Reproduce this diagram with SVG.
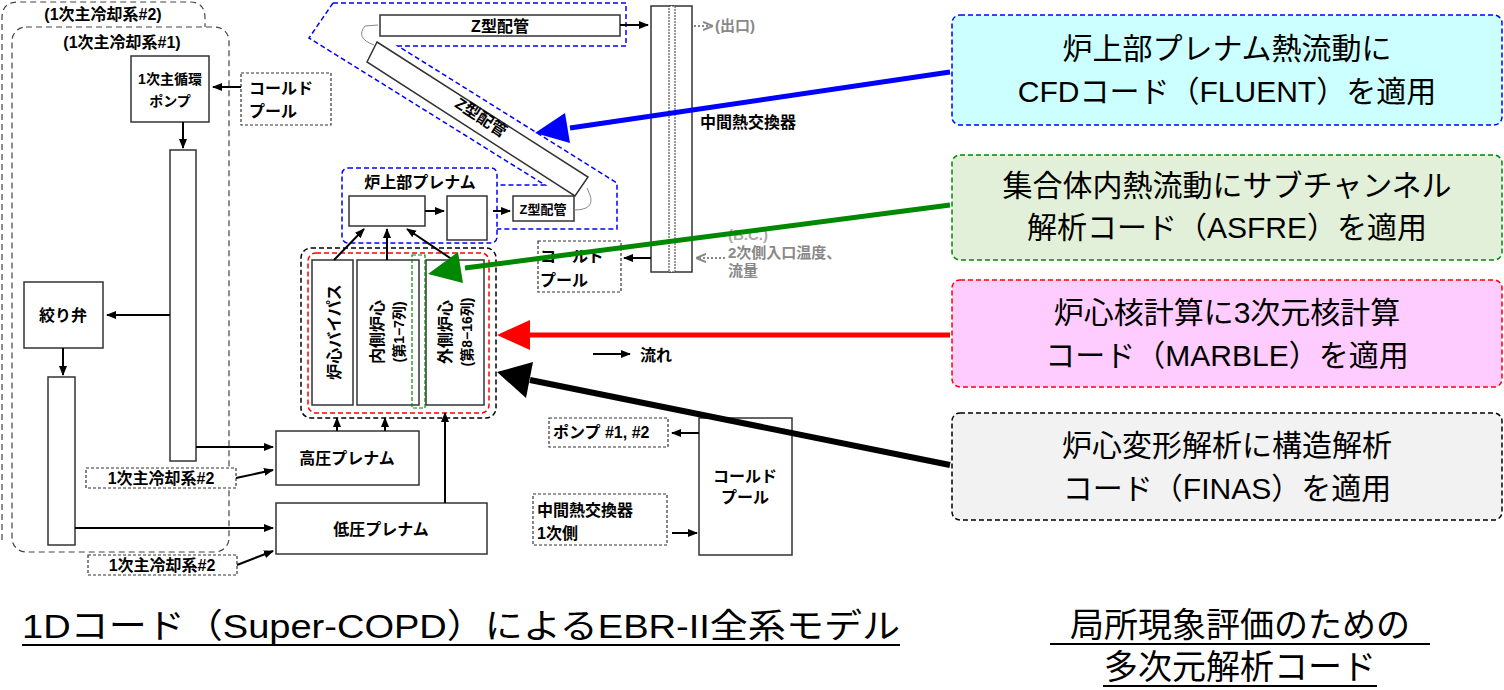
<svg xmlns="http://www.w3.org/2000/svg" width="1504" height="690" viewBox="0 0 1504 690">
<style>
text{font-family:"Liberation Sans","Noto Sans CJK JP",sans-serif;fill:#000}
.b{font-weight:bold;font-size:16px}
.box{fill:#fff;stroke:#333;stroke-width:1.5}
.dd{fill:#fff;stroke:#333;stroke-width:1.2;stroke-dasharray:3 2}
.ln{stroke:#000;stroke-width:2;fill:none;marker-end:url(#a)}
.big{font-size:30px}
.cap{font-size:34px}
</style>
<defs>
<marker id="a" viewBox="0 0 10 10" refX="9" refY="5" markerWidth="5" markerHeight="5" orient="auto"><path d="M0,1L10,5L0,9z" fill="#000"/></marker>
<marker id="g" viewBox="0 0 10 10" refX="9" refY="5" markerWidth="5" markerHeight="5" orient="auto"><path d="M0,1L10,5L0,9" fill="none" stroke="#888" stroke-width="2"/></marker>
</defs>
<g id="systems" fill="none" stroke="#444" stroke-width="1.2" stroke-dasharray="6 4">
<path d="M2,540V18Q2,2,18,2H190Q205,2,205,18V27"/>
<rect x="12" y="27" width="217" height="525" rx="14"/>
</g>
<text class="b" x="103" y="20" text-anchor="middle">(1次主冷却系#2)</text>
<text class="b" x="122" y="48" text-anchor="middle">(1次主冷却系#1)</text>
<g id="pump"><rect class="box" x="131" y="56" width="78" height="66"/><text class="b" x="170" y="84" text-anchor="middle" style="font-size:14px">1次主循環</text><text class="b" x="170" y="106" text-anchor="middle" style="font-size:14px">ポンプ</text></g>
<g id="cp1"><rect class="dd" x="241" y="73" width="90" height="52"/><text class="b" x="249" y="94">コールド</text><text class="b" x="249" y="117">プール</text></g>
<g id="col1"><rect class="box" x="170" y="150" width="26" height="311"/></g>
<g id="valve"><rect class="box" x="24" y="282" width="79" height="66"/><text class="b" x="63" y="321" text-anchor="middle">絞り弁</text></g>
<g id="col2"><rect class="box" x="48" y="377" width="27" height="168"/></g>
<g id="hp"><rect class="box" x="276" y="431" width="143" height="54"/><text class="b" x="347" y="464" text-anchor="middle">高圧プレナム</text></g>
<g id="lp"><rect class="box" x="276" y="503" width="211" height="51"/><text class="b" x="381" y="535" text-anchor="middle">低圧プレナム</text></g>
<g id="l2a"><rect class="dd" x="86" y="468" width="150" height="20"/><text class="b" x="161" y="484" text-anchor="middle">1次主冷却系#2</text></g>
<g id="l2b"><rect class="dd" x="88" y="555" width="149" height="20"/><text class="b" x="162" y="571" text-anchor="middle">1次主冷却系#2</text></g>
<g id="core">
<rect x="301" y="248" width="195" height="170" rx="10" fill="none" stroke="#000" stroke-width="1.5" stroke-dasharray="5 3"/>
<rect x="308" y="253" width="181" height="160" rx="8" fill="none" stroke="#f00" stroke-width="1.5" stroke-dasharray="5 3"/>
<rect class="box" x="312" y="260" width="41" height="145"/>
<rect class="box" x="357" y="260" width="62" height="145"/>
<rect class="box" x="426" y="260" width="58" height="145"/>
<rect x="412" y="255" width="13" height="153" fill="none" stroke="#080" stroke-width="1.2" stroke-dasharray="4 2"/>
<text class="b" transform="translate(340,332) rotate(-90)" text-anchor="middle">炉心バイパス</text>
<text class="b" transform="translate(383,332) rotate(-90)" text-anchor="middle">内側炉心</text>
<text class="b" transform="translate(404,332) rotate(-90)" text-anchor="middle" style="font-size:14px">(第1−7列)</text>
<text class="b" transform="translate(451,332) rotate(-90)" text-anchor="middle">外側炉心</text>
<text class="b" transform="translate(472,332) rotate(-90)" text-anchor="middle" style="font-size:14px">(第8−16列)</text>
</g>
<g id="zpipe" fill="none" stroke="#00f" stroke-width="1.5" stroke-dasharray="5 3">
<path d="M333,3H626V46H398L617,183V229H497"/>
<path d="M333,3L309,38L545,185H497"/>
<rect x="342" y="168" width="155" height="75" rx="6"/>
</g>
<g id="upper"><text class="b" x="420" y="188" text-anchor="middle">炉上部プレナム</text>
<rect class="box" x="349" y="196" width="76" height="30"/><rect class="box" x="447" y="196" width="40" height="44"/>
<rect class="box" x="513" y="196" width="61" height="25"/><text x="543" y="214" text-anchor="middle" style="font-size:13px;font-weight:bold">Z型配管</text></g>
<g id="ztop"><rect class="box" x="380" y="15" width="240" height="21"/><text class="b" x="500" y="32" text-anchor="middle">Z型配管</text></g>
<g id="zdiag"><polygon class="box" points="377,42 588,177 575,196 367,62"/><text class="b" transform="translate(478,122) rotate(33)" text-anchor="middle">Z型配管</text></g>
<g id="ihx"><rect class="box" x="651" y="6" width="41" height="266"/><rect x="669" y="6" width="6" height="266" fill="#fff" stroke="#333" stroke-width="1" stroke-dasharray="2 1"/><text class="b" x="700" y="128">中間熱交換器</text></g>
<text x="715" y="31" style="font-size:15px;font-weight:bold;fill:#888">(出口)</text>
<g id="cp2"><rect class="dd" x="538" y="241" width="83" height="51"/><text class="b" x="540" y="262">コールド</text><text class="b" x="540" y="286">プール</text></g>
<text x="728" y="240" style="font-size:15px;font-weight:bold;fill:#aaa">(B.C.)</text>
<text x="728" y="258" style="font-size:15px;font-weight:bold;fill:#888">2次側入口温度、</text>
<text x="728" y="276" style="font-size:15px;font-weight:bold;fill:#888">流量</text>
<text class="b" x="640" y="361">流れ</text>
<g id="cp3"><rect class="box" x="699" y="418" width="93" height="137"/><text class="b" x="745" y="482" text-anchor="middle">コールド</text><text class="b" x="745" y="503" text-anchor="middle">プール</text></g>
<g id="pumps"><rect class="dd" x="549" y="418" width="119" height="29"/><text class="b" x="553" y="438">ポンプ #1, #2</text></g>
<g id="ihx1"><rect class="dd" x="533" y="494" width="134" height="51"/><text class="b" x="537" y="516">中間熱交換器</text><text class="b" x="537" y="539">1次側</text></g>
<g id="cfd"><rect x="952" y="15" width="550" height="110" rx="8" fill="#ccffff" stroke="#00f" stroke-width="1.5" stroke-dasharray="5 3"/><text class="big" x="1227" y="59" text-anchor="middle">炉上部プレナム熱流動に</text><text class="big" x="1227" y="102" text-anchor="middle">CFDコード（FLUENT）を適用</text></g>
<g id="asfre"><rect x="952" y="155" width="550" height="105" rx="8" fill="#e2f0d9" stroke="#080" stroke-width="1.5" stroke-dasharray="5 3"/><text class="big" x="1227" y="196" text-anchor="middle">集合体内熱流動にサブチャンネル</text><text class="big" x="1227" y="238" text-anchor="middle">解析コード（ASFRE）を適用</text></g>
<g id="marble"><rect x="952" y="280" width="550" height="107" rx="8" fill="#ffccff" stroke="#f00" stroke-width="1.5" stroke-dasharray="5 3"/><text class="big" x="1227" y="323" text-anchor="middle">炉心核計算に3次元核計算</text><text class="big" x="1227" y="366" text-anchor="middle">コード（MARBLE）を適用</text></g>
<g id="finas"><rect x="952" y="413" width="550" height="107" rx="8" fill="#f2f2f2" stroke="#000" stroke-width="1.5" stroke-dasharray="5 3"/><text class="big" x="1227" y="456" text-anchor="middle">炉心変形解析に構造解析</text><text class="big" x="1227" y="499" text-anchor="middle">コード（FINAS）を適用</text></g>
<text class="cap" x="22" y="638" textLength="878" lengthAdjust="spacingAndGlyphs">1Dコード（Super-COPD）によるEBR-II全系モデル</text>
<line x1="22" y1="645" x2="900" y2="645" stroke="#000" stroke-width="2"/>
<text class="cap" x="1240" y="637" text-anchor="middle">局所現象評価のための</text>
<line x1="1050" y1="644" x2="1430" y2="644" stroke="#000" stroke-width="2"/>
<text class="cap" x="1240" y="679" text-anchor="middle">多次元解析コード</text>
<line x1="1103" y1="686" x2="1377" y2="686" stroke="#000" stroke-width="2"/>
<g id="connectors">
<path class="ln" d="M241,87H213"/>
<path class="ln" d="M183,122V148"/>
<path class="ln" d="M170,315H107"/>
<path class="ln" d="M63,348V375"/>
<path class="ln" d="M196,447H273"/>
<path class="ln" d="M236,478L273,470"/>
<path class="ln" d="M75,528H273"/>
<path class="ln" d="M237,565L273,551"/>
<path class="ln" d="M337,431V418"/>
<path class="ln" d="M385,431V418"/>
<path class="ln" d="M445,503V413"/>
<path class="ln" d="M334,260L364,229"/>
<path class="ln" d="M387,260V229"/>
<path class="ln" d="M453,260L407,229"/>
<path class="ln" d="M425,211H444"/>
<path class="ln" d="M493,211H510"/>
<path class="ln" d="M620,25H648"/>
<path class="ln" d="M651,258H624"/>
<path class="ln" d="M593,354H630"/>
<path class="ln" d="M699,433H672"/>
<path class="ln" d="M672,533H697"/>
<path d="M694,26H712" fill="none" stroke="#888" stroke-width="2" stroke-dasharray="2 2" marker-end="url(#g)"/>
<path d="M725,258H697" fill="none" stroke="#888" stroke-width="2" stroke-dasharray="2 2" marker-end="url(#g)"/>
<path d="M374,45Q355,38,365,26L378,25" fill="none" stroke="#888" stroke-width="1"/>
<path d="M574,210Q595,210,590,195L587,188" fill="none" stroke="#888" stroke-width="1"/>
<line x1="950" y1="72" x2="570" y2="128" stroke="#00f" stroke-width="5"/><polygon points="535,133 565,113 570,143" fill="#00f"/>
<line x1="950" y1="205" x2="465" y2="268" stroke="#080" stroke-width="5"/><polygon points="428,274 458,252 463,283" fill="#080"/>
<line x1="950" y1="335" x2="530" y2="335" stroke="#f00" stroke-width="5"/><polygon points="497,335 530,320 530,350" fill="#f00"/>
<line x1="950" y1="465" x2="530" y2="380" stroke="#000" stroke-width="6"/><polygon points="497,372 533,362 526,398" fill="#000"/>
</g>
</svg>
